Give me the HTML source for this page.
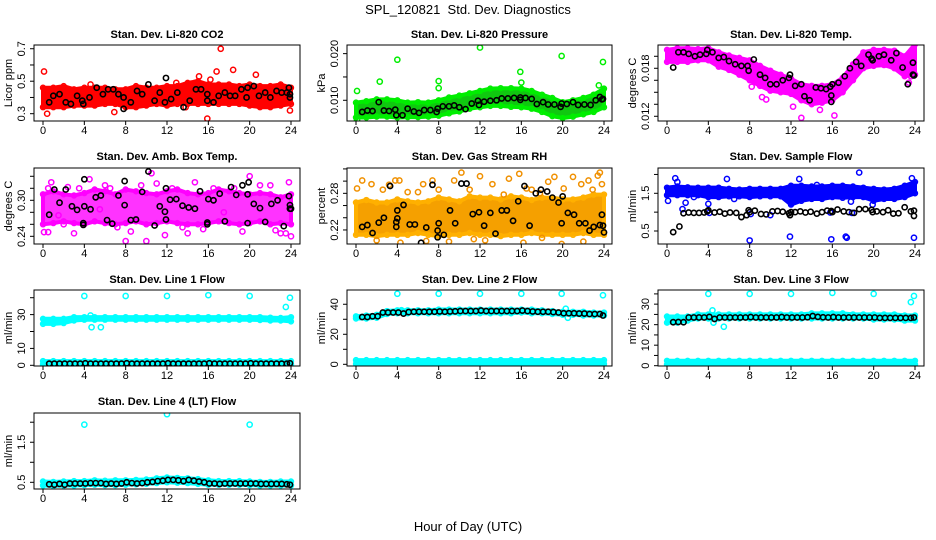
<!DOCTYPE html>
<html><head><meta charset="utf-8"><title>SPL_120821 Std. Dev. Diagnostics</title>
<style>
html,body{margin:0;padding:0;background:#fff;}
svg{display:block;font-family:"Liberation Sans",Arial,sans-serif;}
</style></head>
<body>
<svg id="chart" width="936" height="540" viewBox="0 0 936 540" xmlns="http://www.w3.org/2000/svg">
<rect x="0" y="0" width="936" height="540" fill="#fff"/>
<text x="468" y="14" text-anchor="middle" font-size="13" xml:space="preserve">SPL_120821  Std. Dev. Diagnostics</text>
<text x="468" y="531" text-anchor="middle" font-size="13">Hour of Day (UTC)</text>
</svg>
<script>
// ---------- shared data ----------
const HOURS25 = [0,1,2,3,4,5,6,7,8,9,10,11,12,13,14,15,16,17,18,19,20,21,22,23,24];
const HB = [0.6,1.1,1.6,2.1,2.6,3.1,3.6,4.1,4.6,5.1,5.6,6.1,6.6,7.1,7.6,8.1,8.6,9.1,9.6,10.1,10.6,11.1,11.6,12.1,12.6,13.1,13.6,14.1,14.6,15.1,15.6,16.1,16.6,17.1,17.6,18.1,18.6,19.1,19.6,20.1,20.6,21.1,21.6,22.1,22.6,23.1,23.6,23.9];
const XTICKS = [0,4,8,12,16,20,24];

// ---------- CO2 ----------
const co2Lo = [0.34,0.34,0.34,0.35,0.35,0.35,0.36,0.36,0.34,0.34,0.35,0.36,0.35,0.36,0.36,0.36,0.36,0.36,0.36,0.36,0.35,0.34,0.34,0.35,0.36];
const co2Hi = [0.46,0.46,0.47,0.45,0.46,0.46,0.46,0.45,0.45,0.47,0.46,0.46,0.47,0.47,0.49,0.50,0.48,0.48,0.48,0.47,0.48,0.47,0.47,0.48,0.46];
const co2OutX = [0.1,0.4,4.6,6.9,12.9,15.1,16.8,17.2,15.9,18.4,20.6,23.9,16.2,14.7,13.8];
const co2OutY = [0.56,0.30,0.48,0.31,0.49,0.53,0.56,0.70,0.27,0.57,0.54,0.32,0.51,0.49,0.34];
const co2BlkX = [0.6,1.0,1.6,2.2,2.7,3.3,3.8,3.9,4.5,5.2,5.8,6.3,6.8,7.3,7.8,7.8,8.5,9.1,9.6,10.2,10.8,11.3,11.8,11.9,12.4,13.0,13.6,14.2,14.8,15.3,15.9,15.9,16.5,17.0,17.6,18.1,18.6,19.2,19.7,19.8,20.4,20.9,21.5,22.0,22.6,23.1,23.6,23.8,23.9,23.9];
const co2BlkY = [0.37,0.41,0.42,0.37,0.36,0.41,0.38,0.36,0.40,0.46,0.42,0.45,0.45,0.42,0.40,0.33,0.37,0.44,0.42,0.48,0.38,0.43,0.37,0.52,0.39,0.43,0.34,0.38,0.45,0.45,0.38,0.42,0.37,0.41,0.43,0.41,0.41,0.45,0.40,0.46,0.47,0.41,0.43,0.40,0.44,0.43,0.43,0.46,0.42,0.40];

// ---------- Pressure ----------
const prLo = [0.0063,0.0063,0.0065,0.0065,0.0063,0.0064,0.0064,0.0065,0.0067,0.0072,0.0076,0.0082,0.0085,0.0088,0.0088,0.0086,0.0085,0.0082,0.0075,0.0066,0.0062,0.0065,0.0070,0.0075,0.0085];
const prHi = [0.0095,0.0098,0.0102,0.0102,0.0100,0.0095,0.0096,0.0095,0.0100,0.0106,0.0110,0.0115,0.0120,0.0125,0.0126,0.0126,0.0125,0.0120,0.0112,0.0105,0.0096,0.0100,0.0105,0.0112,0.0125];
const prOutX = [0.1,0.1,2.3,4.0,8.0,8.0,12.0,15.9,16.0,19.9,23.9,23.5];
const prOutY = [0.0120,0.0058,0.0140,0.0187,0.0141,0.0126,0.0213,0.0161,0.0138,0.0195,0.0182,0.0132];
const prBlkX = [0.6,1.1,1.6,2.2,2.7,3.2,3.8,3.9,4.5,5.0,5.6,6.1,6.6,7.2,7.8,7.9,8.4,9.0,9.5,10.0,10.6,11.2,11.8,11.9,12.4,13.0,13.6,14.1,14.7,15.3,15.9,15.9,16.4,17.0,17.5,18.1,18.6,19.2,19.8,19.9,20.4,21.0,21.5,22.1,22.7,23.2,23.6,23.8,23.9];
const prBlkY = [0.0075,0.0078,0.0077,0.0096,0.0078,0.0077,0.0080,0.0068,0.0068,0.0082,0.0076,0.0073,0.0079,0.0079,0.0075,0.0082,0.0087,0.0087,0.0089,0.0085,0.0081,0.0093,0.0099,0.0090,0.0097,0.0099,0.0100,0.0104,0.0104,0.0105,0.0101,0.0106,0.0105,0.0103,0.0092,0.0096,0.0091,0.0091,0.0086,0.0093,0.0092,0.0096,0.0090,0.0091,0.0090,0.0100,0.0107,0.0102,0.0103];

// ---------- Li-820 Temp ----------
const tpLo = [0.0188,0.0188,0.0188,0.0190,0.0190,0.0182,0.0178,0.0172,0.0165,0.0158,0.0152,0.0150,0.0148,0.0140,0.0135,0.0137,0.0140,0.0150,0.0165,0.0180,0.0183,0.0184,0.0180,0.0170,0.0172];
const tpHi = [0.0203,0.0205,0.0205,0.0204,0.0205,0.0200,0.0196,0.0193,0.0190,0.0183,0.0177,0.0172,0.0167,0.0160,0.0158,0.0158,0.0160,0.0168,0.0185,0.0200,0.0203,0.0203,0.0202,0.0195,0.0210];
const tpOutX = [13.0,16.2,12.2,9.2,9.6,8.2,23.6,23.4,7.6,14.8];
const tpOutY = [0.0118,0.0121,0.0132,0.0144,0.0141,0.0157,0.0170,0.0162,0.0186,0.0128];
const tpBlkX = [0.6,1.1,1.6,2.1,2.7,3.2,3.8,3.9,4.4,5.0,5.5,6.0,6.6,7.2,7.8,7.9,8.4,9.0,9.5,10.0,10.6,11.2,11.8,11.9,12.4,13.0,13.3,13.8,14.4,14.9,15.4,15.8,15.9,15.9,16.0,16.6,17.2,17.7,18.3,18.8,19.5,19.8,19.9,20.5,21.0,21.7,22.2,22.8,23.3,23.8,23.8,23.9];
const tpBlkY = [0.0181,0.0200,0.0200,0.0198,0.0195,0.0197,0.0198,0.0203,0.0200,0.0193,0.0194,0.0189,0.0185,0.0183,0.0183,0.0177,0.0191,0.0172,0.0168,0.0160,0.0160,0.0165,0.0168,0.0172,0.0158,0.0160,0.0145,0.0140,0.0156,0.0155,0.0154,0.0157,0.0146,0.0138,0.0160,0.0162,0.0170,0.0180,0.0188,0.0183,0.0197,0.0192,0.0190,0.0195,0.0197,0.0190,0.0199,0.0181,0.0160,0.0172,0.0187,0.0171];

// ---------- Amb Box Temp ----------
const abLo = [0.260,0.262,0.265,0.262,0.260,0.265,0.262,0.260,0.262,0.265,0.260,0.262,0.265,0.262,0.260,0.260,0.262,0.265,0.262,0.260,0.262,0.265,0.260,0.262,0.260];
const abHi = [0.310,0.315,0.310,0.308,0.312,0.318,0.315,0.310,0.318,0.315,0.312,0.310,0.315,0.318,0.312,0.310,0.312,0.318,0.315,0.312,0.310,0.312,0.310,0.305,0.310];
const abOutX = [0.1,0.5,0.5,0.8,1.5,2.4,3.0,3.5,4.5,5.5,6.5,7.2,8.0,8.5,9.5,10.0,10.5,11.0,11.8,12.5,13.5,14.7,15.5,16.5,17.5,18.5,19.3,20.0,21.0,22.0,22.5,23.0,23.5,23.8,24.0,6.0,2.0,14.0];
const abOutY = [0.247,0.247,0.320,0.330,0.275,0.322,0.245,0.320,0.335,0.285,0.320,0.255,0.232,0.248,0.325,0.232,0.345,0.328,0.242,0.320,0.255,0.330,0.252,0.320,0.280,0.320,0.248,0.340,0.325,0.325,0.250,0.245,0.245,0.330,0.240,0.325,0.260,0.245];
const abBlkX = [0.6,1.1,1.6,2.2,2.8,3.3,3.9,3.9,4.0,4.0,4.6,5.1,5.6,6.2,6.7,7.3,7.9,7.9,8.5,9.0,9.6,10.2,10.8,11.3,11.8,11.9,11.9,12.3,12.9,13.5,14.1,14.7,15.2,15.9,15.9,16.0,16.5,17.1,17.6,18.2,18.7,19.3,19.8,19.8,19.9,20.4,21.0,21.5,22.1,22.7,23.3,23.8,23.9,23.9,24.0];
const abBlkY = [0.276,0.318,0.296,0.318,0.290,0.284,0.259,0.262,0.290,0.335,0.285,0.305,0.308,0.267,0.261,0.308,0.292,0.332,0.267,0.268,0.314,0.348,0.258,0.290,0.281,0.268,0.320,0.301,0.302,0.291,0.288,0.286,0.315,0.260,0.263,0.302,0.300,0.311,0.265,0.322,0.309,0.325,0.262,0.310,0.330,0.294,0.287,0.264,0.294,0.300,0.257,0.307,0.292,0.286,0.286];

// ---------- Gas Stream RH ----------
const rhLo = [0.212,0.212,0.210,0.212,0.212,0.212,0.215,0.212,0.210,0.212,0.212,0.215,0.212,0.212,0.210,0.212,0.212,0.215,0.212,0.212,0.212,0.212,0.215,0.212,0.212];
const rhHi = [0.265,0.269,0.265,0.265,0.270,0.267,0.265,0.267,0.273,0.270,0.267,0.275,0.273,0.273,0.270,0.275,0.273,0.269,0.273,0.273,0.270,0.270,0.273,0.278,0.278];
const rhOutX = [0.1,0.6,1.5,2.6,3.2,3.8,4.2,4.3,5.0,6.0,6.5,7.4,8.0,9.5,10.2,11.0,11.4,12.0,13.2,14.3,14.8,15.8,16.5,17.0,17.8,18.6,19.2,19.9,20.1,21.0,21.8,22.5,22.9,23.4,23.6,23.8,12.5,9.0,2.0,6.8,16.2,18.0,22.0];
const rhOutY = [0.288,0.301,0.295,0.286,0.294,0.301,0.301,0.199,0.282,0.282,0.295,0.301,0.286,0.301,0.314,0.286,0.205,0.308,0.295,0.278,0.304,0.312,0.288,0.286,0.280,0.299,0.307,0.197,0.288,0.307,0.295,0.301,0.286,0.309,0.314,0.295,0.203,0.201,0.203,0.202,0.199,0.207,0.201];
const rhBlkX = [0.6,1.1,1.6,2.2,2.7,3.3,3.9,3.9,4.0,4.0,4.6,5.2,5.7,6.3,6.8,7.4,7.9,7.9,8.0,8.5,9.1,9.6,10.2,10.7,11.3,11.9,12.4,13.0,13.5,14.1,14.6,15.2,15.7,16.3,16.8,17.4,17.9,18.5,19.0,19.6,19.9,20.0,20.5,21.1,21.6,22.2,22.6,23.0,23.6,23.8,23.9,24.0];
const rhBlkY = [0.225,0.228,0.215,0.232,0.240,0.292,0.225,0.233,0.239,0.252,0.261,0.229,0.229,0.199,0.224,0.294,0.208,0.219,0.231,0.212,0.252,0.231,0.296,0.296,0.246,0.249,0.227,0.248,0.214,0.252,0.252,0.235,0.267,0.292,0.227,0.280,0.286,0.283,0.273,0.265,0.231,0.275,0.248,0.245,0.231,0.231,0.219,0.225,0.228,0.245,0.227,0.216];

// ---------- Sample Flow ----------
const sfLo = [1.45,1.45,1.45,1.45,1.40,1.40,1.42,1.42,1.40,1.42,1.42,1.42,1.20,1.30,1.35,1.35,1.40,1.38,1.40,1.40,1.30,1.35,1.35,1.40,1.50];
const sfHi = [1.65,1.68,1.66,1.65,1.65,1.65,1.62,1.60,1.62,1.62,1.62,1.62,1.70,1.70,1.68,1.68,1.70,1.70,1.68,1.65,1.62,1.60,1.62,1.70,1.80];
const sfOutX = [0.1,0.8,1.0,1.5,1.8,2.6,4.0,4.1,5.8,6.5,8.0,8.1,10.0,11.9,11.9,12.8,14.5,15.9,17.3,17.4,17.8,18.6,19.9,23.7,23.9,15.8,17.9];
const sfOutY = [1.30,1.90,1.80,1.08,1.25,1.40,1.22,0.98,1.88,1.35,0.25,0.95,0.92,0.35,1.30,1.88,1.72,0.28,0.35,0.32,1.28,2.05,1.20,1.90,0.32,0.99,0.98];
const sfBlkX = [0.6,1.2,1.6,2.1,2.6,3.1,3.6,3.9,4.0,4.6,5.1,5.6,6.1,6.7,7.2,7.7,7.9,8.0,8.5,9.1,9.6,10.2,10.7,11.2,11.8,11.9,12.0,12.4,12.9,13.4,13.9,14.5,15.0,15.5,15.9,16.0,16.5,17.1,17.6,18.1,18.6,19.2,19.8,19.9,20.3,20.9,21.4,21.9,22.4,23.0,23.6,23.9,23.9];
const sfBlkY = [0.47,0.62,0.97,0.99,0.98,0.98,0.99,1.02,1.05,0.99,1.01,0.96,0.99,0.98,0.87,0.92,1.05,1.00,1.04,0.95,0.94,1.02,1.03,1.01,0.97,0.92,1.00,1.00,1.02,0.99,1.01,0.96,1.00,1.04,1.03,1.00,1.07,1.02,1.00,0.98,1.08,1.08,1.06,1.00,1.02,1.00,1.05,0.96,0.97,1.13,1.02,0.90,1.04];

// ---------- Line 1 Flow ----------
const l1Lo = [24.5,24.5,25,26.5,27,27,27,27,27,27,27,27,27,27,27,27,27,27,27,27,27,26.8,26.5,26.5,26];
const l1Hi = [27.5,27.5,27.5,28.5,28.5,28.5,28.5,28.5,28.5,28.5,28.5,28.5,28.5,28.5,28.5,28.5,28.5,28.5,28.5,28.5,28.5,28.5,28.2,28,28.5];
const l1LowLo = [0.5,0.5,0.5,0.5,0.5,0.5,0.5,0.5,0.5,0.5,0.5,0.5,0.5,0.5,0.5,0.5,0.5,0.5,0.5,0.5,0.5,0.5,0.5,0.5,0.5];
const l1LowHi = [2.5,2.5,2.5,2.5,2.5,2.5,2.5,2.5,2.5,2.5,2.5,2.5,2.5,2.5,2.5,2.5,2.5,2.5,2.5,2.5,2.5,2.5,2.5,2.5,2.5];
const l1OutX = [4.0,8.0,12.0,16.0,20.0,23.9,23.5,4.6,4.7,5.6];
const l1OutY = [41,41,41,41.5,41,40,34.5,29.5,22.5,22.5];
const l1Blk = [1,1,1,1,1,1,1,1.2,1,1,1,1,1,1,1,1.2,1,1,1,1,1,1,1,1.2,1,1,1,1,1,1,1,1.2,1,1,1,1,1,1,1,1.2,1,1,1,1,1,1,1,1.2];

// ---------- Line 2 Flow ----------
const l2Lo = [30.5,30.5,31,33.5,34,34,34,34,34,34,34,34,34,34,34,34,34.5,34,34,33.5,33,33,32.5,32.5,32.5];
const l2Hi = [32,32.5,33,35.5,36,36,36,36,36.5,36.5,36.5,36.5,36.5,36.5,36.5,36.5,36.5,36.5,36,35.5,35,35,35,34.5,34.5];
const l2LowLo = [0.3,0.3,0.3,0.3,0.3,0.3,0.3,0.3,0.3,0.3,0.3,0.3,0.3,0.3,0.3,0.3,0.3,0.3,0.3,0.3,0.3,0.3,0.3,0.3,0.3];
const l2LowHi = [2.8,2.8,2.8,2.8,2.8,2.8,2.8,2.8,2.8,2.8,2.8,2.8,2.8,2.8,2.8,2.8,2.8,2.8,2.8,2.8,2.8,2.8,2.8,2.8,2.8];
const l2OutX = [4.0,8.0,12.0,16.0,19.9,23.9,20.3,20.5,4.4];
const l2OutY = [47,47,47,47,47,46,37,31,36];
const l2Blk = [31.5,31.5,32,32,34.5,34.5,34.5,34.5,33.8,34.8,35,35,35,35,35,35.2,35,35.2,35.3,35.5,35.5,35.5,35.5,35.8,35.5,35.5,35.5,35.5,35.5,35.5,35.5,35.8,35.5,35.2,35,35,35,34.8,34.5,34,34,34,33.8,33.8,33.5,33.5,33.5,32.5];

// ---------- Line 3 Flow ----------
const l3Lo = [21,21,22,23,23,23,23,23,23,23,23,23,23,23,23,23,23,23,23,23,22.5,22.5,22.5,22,22];
const l3Hi = [24,24,24,25,25,25,25,25,25,25,25,25,25,25,25.5,25.5,25.5,25.5,25,25,25,25,25,24.5,24.5];
const l3LowLo = [0.6,0.6,0.6,0.6,0.6,0.6,0.6,0.6,0.6,0.6,0.6,0.6,0.6,0.6,0.6,0.6,0.6,0.6,0.6,0.6,0.6,0.6,0.6,0.6,0.6];
const l3LowHi = [2.4,2.4,2.4,2.4,2.4,2.4,2.4,2.4,2.4,2.4,2.4,2.4,2.4,2.4,2.4,2.4,2.4,2.4,2.4,2.4,2.4,2.4,2.4,2.4,2.4];
const l3OutX = [4.0,8.0,12.0,16.0,20.0,23.9,23.6,4.4,4.5,5.5];
const l3OutY = [35,35,35,35.5,35,34,31,27,21,19];
const l3Blk = [21.2,21.3,21.2,23.5,23.5,23.5,23.5,23.8,22.8,23.5,23.5,23.5,23.5,23.5,23.5,23.7,23.5,23.5,23.5,23.5,23.5,23.7,23.5,23.5,23.5,23.5,23.6,24.2,23.8,23.6,23.5,23.7,23.5,23.5,23.5,23.5,23.5,23.5,23.5,23.5,23.3,23.3,23.3,23.3,23.3,23.3,23.3,23.5];

// ---------- Line 4 (LT) Flow ----------
const l4Lo = [0.42,0.41,0.42,0.42,0.43,0.44,0.43,0.43,0.44,0.45,0.46,0.48,0.50,0.49,0.48,0.46,0.44,0.44,0.44,0.44,0.43,0.42,0.42,0.42,0.42];
const l4Hi = [0.52,0.51,0.52,0.53,0.53,0.55,0.54,0.55,0.55,0.56,0.57,0.60,0.62,0.61,0.60,0.58,0.55,0.53,0.53,0.53,0.52,0.51,0.51,0.52,0.52];
const l4OutX = [4.0,12.0,20.0];
const l4OutY = [1.94,2.20,1.94];
const l4Blk = [0.45,0.44,0.46,0.44,0.47,0.47,0.47,0.47,0.48,0.48,0.48,0.46,0.47,0.46,0.47,0.50,0.48,0.47,0.48,0.50,0.51,0.53,0.54,0.56,0.56,0.55,0.53,0.56,0.54,0.52,0.50,0.47,0.47,0.46,0.47,0.47,0.47,0.47,0.47,0.47,0.47,0.46,0.46,0.46,0.46,0.46,0.45,0.44];

// ---------- rendering ----------
const NS = 'http://www.w3.org/2000/svg';
const svg = document.getElementById('chart');
function mk(tag, attrs, parent){
  const e = document.createElementNS(NS, tag);
  for (const k in attrs) e.setAttribute(k, attrs[k]);
  parent.appendChild(e);
  return e;
}
const COLS = [{l:34,r:300,x0:43,x24:291},{l:347,r:612,x0:356,x24:604},{l:658,r:924,x0:667,x24:915}];
const ROWS = [{t:45,b:121,ty:38},{t:168,b:244,ty:160},{t:290,b:366,ty:283},{t:413,b:489,ty:405}];
let clipId = 0;

function drawPanel(p){
  const c = COLS[p.col], r = ROWS[p.row];
  const xs = h => c.x0 + h*(c.x24 - c.x0)/24;
  const ys = v => r.b - (v - p.vb)/(p.vt - p.vb)*(r.b - r.t);
  const g = mk('g', {}, svg);
  
  
  const cid = 'clip' + (clipId++);
  const cp = mk('clipPath', {id: cid}, g);
  mk('rect', {x:c.l, y:r.t, width:c.r-c.l, height:r.b-r.t}, cp);
  const plot = mk('g', {'clip-path':'url(#' + cid + ')'}, g);
  
  
  p.bands.forEach((bd, bi) => {
    let pts = [];
    for (let i = 0; i < HOURS25.length; i++) pts.push(xs(HOURS25[i]).toFixed(1) + ',' + ys(bd.hi[i]).toFixed(1));
    for (let i = HOURS25.length - 1; i >= 0; i--) pts.push(xs(HOURS25[i]).toFixed(1) + ',' + ys(bd.lo[i]).toFixed(1));
    const poly = mk('polygon', {points: pts.join(' '), fill: p.fill, stroke: p.color, 'stroke-width': 4, 'stroke-linejoin':'round'}, plot);
    
    
    for (let i = 0; i < HOURS25.length; i++) {
      [bd.hi[i], bd.lo[i]].forEach(v => {
        const ec = mk('circle', {cx: xs(HOURS25[i]), cy: ys(v), r: 2.5, fill: 'none', stroke: p.color, 'stroke-width': 1.4}, plot);
        
        
      });
    }
  });
  for (let i = 0; i < p.outX.length; i++) {
    const o = mk('circle', {cx: xs(p.outX[i]), cy: ys(p.outY[i]), r: 2.6, fill: 'none', stroke: p.ocolor || p.color, 'stroke-width': 1.5}, plot);
    
    
  }
  for (let i = 0; i < p.blkX.length; i++) {
    const b = mk('circle', {cx: xs(p.blkX[i]), cy: ys(p.blkY[i]), r: 2.6, fill: 'none', stroke: '#000', 'stroke-width': 1.6}, plot);
    
    
  }
  const box = mk('rect', {x:c.l, y:r.t, width:c.r-c.l, height:r.b-r.t, fill:'none', stroke:'#000', 'stroke-width':1}, g);
  
  
  XTICKS.forEach(h => {
    const t = mk('line', {x1: xs(h), x2: xs(h), y1: r.b, y2: r.b + 4, stroke:'#000'}, g);
    
    
    const tl = mk('text', {x: xs(h), y: r.b + 13, 'text-anchor':'middle', 'font-size': 11}, g);
    tl.textContent = String(h);
    
    
  });
  p.yt.forEach(v => {
    const t = mk('line', {x1: c.l - 4, x2: c.l, y1: ys(v), y2: ys(v), stroke:'#000'}, g);
    
    
  });
  p.yl.forEach(s => {
    const y = ys(parseFloat(s));
    const tl = mk('text', {x: c.l - 9, y: y, 'text-anchor':'middle', 'font-size': 11, transform: 'rotate(-90 ' + (c.l - 9) + ' ' + y + ')'}, g);
    tl.textContent = s;
    
    
  });
  const ym = (r.t + r.b)/2;
  const yt = mk('text', {x: c.l - 22, y: ym, 'text-anchor':'middle', 'font-size': 11, transform: 'rotate(-90 ' + (c.l - 22) + ' ' + ym + ')'}, g);
  yt.textContent = p.ylab;
  
  
  const ti = mk('text', {x: (c.l + c.r)/2, y: r.ty, 'text-anchor':'middle', 'font-size': 11, 'font-weight':'bold'}, g);
  ti.textContent = p.title;
  
  
}

const PANELS = [
 {name:'co2', col:0,row:0, title:'Stan. Dev. Li-820 CO2', ylab:'Licor ppm', vb:0.255, vt:0.723, yt:[0.3,0.4,0.5,0.6,0.7], yl:['0.3','0.5','0.7'], color:'#ff0000', fill:'#ff0000', bands:[{lo:co2Lo,hi:co2Hi}], outX:co2OutX, outY:co2OutY, blkX:co2BlkX, blkY:co2BlkY},
 {name:'pressure', col:1,row:0, title:'Stan. Dev. Li-820 Pressure', ylab:'kPa', vb:0.00556, vt:0.02185, yt:[0.010,0.015,0.020], yl:['0.010','0.020'], color:'#00ee00', fill:'#10c810', bands:[{lo:prLo,hi:prHi}], outX:prOutX, outY:prOutY, blkX:prBlkX, blkY:prBlkY},
 {name:'li820-temp', col:2,row:0, title:'Stan. Dev. Li-820 Temp.', ylab:'degrees C', vb:0.01141, vt:0.02091, yt:[0.012,0.0135,0.015,0.0165,0.018,0.0195], yl:['0.012','0.018'], color:'#ff00ff', fill:'#ff00ff', bands:[{lo:tpLo,hi:tpHi}], outX:tpOutX, outY:tpOutY, blkX:tpBlkX, blkY:tpBlkY},
 {name:'amb-box-temp', col:0,row:1, title:'Stan. Dev. Amb. Box Temp.', ylab:'degrees C', vb:0.2272, vt:0.3538, yt:[0.24,0.26,0.28,0.30,0.32,0.34], yl:['0.24','0.30'], color:'#ff00ff', fill:'#ff33ff', bands:[{lo:abLo,hi:abHi}], outX:abOutX, outY:abOutY, blkX:abBlkX, blkY:abBlkY},
 {name:'gas-stream-rh', col:1,row:1, title:'Stan. Dev. Gas Stream RH', ylab:'percent', vb:0.197, vt:0.3215, yt:[0.22,0.24,0.26,0.28,0.30,0.32], yl:['0.22','0.28'], color:'#ffb000', ocolor:'#f09000', fill:'#f5a000', bands:[{lo:rhLo,hi:rhHi}], outX:rhOutX, outY:rhOutY, blkX:rhBlkX, blkY:rhBlkY},
 {name:'sample-flow', col:2,row:1, title:'Stan. Dev. Sample Flow', ylab:'ml/min', vb:0.155, vt:2.171, yt:[0.5,1.0,1.5,2.0], yl:['0.5','1.5'], color:'#0000ff', fill:'#0000ff', bands:[{lo:sfLo,hi:sfHi}], outX:sfOutX, outY:sfOutY, blkX:sfBlkX, blkY:sfBlkY},
 {name:'line1-flow', col:0,row:2, title:'Stan. Dev. Line 1 Flow', ylab:'ml/min', vb:-0.41, vt:44.56, yt:[0,10,20,30,40], yl:['0','10','30'], color:'#00ffff', fill:'#00ffff', bands:[{lo:l1Lo,hi:l1Hi},{lo:l1LowLo,hi:l1LowHi}], outX:l1OutX, outY:l1OutY, blkX:HB, blkY:l1Blk},
 {name:'line2-flow', col:1,row:2, title:'Stan. Dev. Line 2 Flow', ylab:'ml/min', vb:-1.13, vt:49.5, yt:[0,10,20,30,40], yl:['0','20','40'], color:'#00ffff', fill:'#00ffff', bands:[{lo:l2Lo,hi:l2Hi},{lo:l2LowLo,hi:l2LowHi}], outX:l2OutX, outY:l2OutY, blkX:HB, blkY:l2Blk},
 {name:'line3-flow', col:2,row:2, title:'Stan. Dev. Line 3 Flow', ylab:'ml/min', vb:-0.15, vt:36.9, yt:[0,5,10,15,20,25,30,35], yl:['0','10','20','30'], color:'#00ffff', fill:'#00ffff', bands:[{lo:l3Lo,hi:l3Hi},{lo:l3LowLo,hi:l3LowHi}], outX:l3OutX, outY:l3OutY, blkX:HB, blkY:l3Blk},
 {name:'line4-flow', col:0,row:3, title:'Stan. Dev. Line 4 (LT) Flow', ylab:'ml/min', vb:0.333, vt:2.23, yt:[0.5,1.0,1.5,2.0], yl:['0.5','1.5'], color:'#00ffff', fill:'#00ffff', bands:[{lo:l4Lo,hi:l4Hi}], outX:l4OutX, outY:l4OutY, blkX:HB, blkY:l4Blk}
];
PANELS.forEach(drawPanel);
</script>
</body></html>
